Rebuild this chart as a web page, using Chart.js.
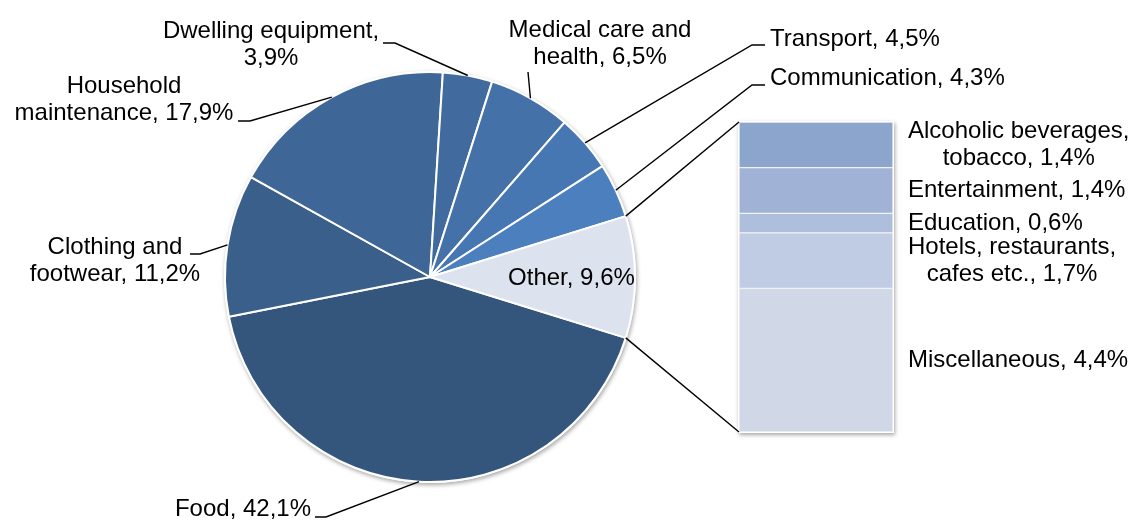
<!DOCTYPE html>
<html><head><meta charset="utf-8">
<script src="https://cdn.jsdelivr.net/npm/chart.js@4/dist/chart.umd.min.js"></script>
<style>
html,body{margin:0;padding:0;background:#fff;}
#wrap{position:relative;width:1133px;height:520px;overflow:hidden;}
#wrap canvas{position:absolute;left:0;top:0;}
</style></head><body>
<div id="wrap"><canvas id="pie" width="1133" height="520"></canvas><canvas id="bar" width="1133" height="520"></canvas></div>
<script>
// ---- data ----
const pieCategories = ['Food', 'Clothing and\nfootwear', 'Household\nmaintenance', 'Dwelling equipment', 'Medical care and\nhealth', 'Transport', 'Communication', 'Other'];
const pieValues = [42.1, 11.2, 17.9, 3.9, 6.5, 4.5, 4.3, 9.6];
const otherCategories = ['Alcoholic beverages,\ntobacco', 'Entertainment', 'Education', 'Hotels, restaurants,\ncafes etc.', 'Miscellaneous'];
const otherValues = [1.4, 1.4, 0.6, 1.7, 4.4];

// ---- styles ----
const pieColors = ['#34567C', '#3A5F8A', '#3E6696', '#416B9E', '#4471A8', '#4777B2', '#4C7FBE', '#DCE2EE'];
const barColors = ['#8BA5CD', '#A0B3D6', '#AEBFDE', '#BFCCE3', '#D0D8E8'];
const FONT = '24px "Liberation Sans", Arial, sans-serif';
const LINE_H = 27;

const fmt = v => v.toFixed(1).replace('.', ',') + '%';
function labelLines(name, value, breakBeforeValue) {
  const txt = name + ',' + (breakBeforeValue ? '\n' : ' ') + fmt(value);
  return txt.split('\n');
}

// label layout for the pie (text anchor, leader elbow points)
const pieLabelLayout = [
  {x: 243, y: 509, align: 'center', leader: [[315, 517], [326, 517]]},
  {x: 115, y: 247, align: 'center', leader: [[190, 254], [200, 254]]},
  {x: 124, y: 86, align: 'center', leader: [[238, 121], [250, 121]]},
  {x: 271, y: 31, align: 'center', leader: [[383, 43], [395, 43]], breakValue: true},
  {x: 600, y: 30, align: 'center', leader: [[528, 72]]},
  {x: 770, y: 39, align: 'left', leader: [[765, 45], [752, 45]]},
  {x: 770, y: 78, align: 'left', leader: [[765, 85], [752, 85]]},
  {inside: 0.69, align: 'center'}
];

function setFont(ctx) {
  ctx.font = FONT;
  ctx.fillStyle = '#000';
  ctx.textBaseline = 'middle';
}

const pieDecor = {
  id: 'pieDecor',
  beforeDatasetsDraw(chart) {
    const arc = chart.getDatasetMeta(0).data[0];
    const ctx = chart.ctx;
    ctx.save();
    ctx.shadowColor = 'rgba(0,0,0,0.35)';
    ctx.shadowBlur = 4;
    ctx.shadowOffsetX = 1;
    ctx.shadowOffsetY = 2;
    ctx.fillStyle = '#fff';
    ctx.beginPath();
    ctx.arc(arc.x, arc.y, arc.outerRadius + 1, 0, Math.PI * 2);
    ctx.fill();
    ctx.restore();
  },
  afterDatasetsDraw(chart) {
    const ctx = chart.ctx;
    const meta = chart.getDatasetMeta(0);
    ctx.save();
    setFont(ctx);
    meta.data.forEach((arc, i) => {
      const L = pieLabelLayout[i];
      const lines = labelLines(pieCategories[i], pieValues[i], L.breakValue);
      const mid = (arc.startAngle + arc.endAngle) / 2;
      if (L.inside) {
        const r = arc.outerRadius * L.inside;
        ctx.textAlign = 'center';
        ctx.fillText(lines.join(' '), arc.x + Math.cos(mid) * r, arc.y + Math.sin(mid) * r + 1);
        return;
      }
      const px = arc.x + Math.cos(mid) * arc.outerRadius;
      const py = arc.y + Math.sin(mid) * arc.outerRadius;
      ctx.strokeStyle = '#000';
      ctx.lineWidth = 1.4;
      ctx.beginPath();
      ctx.moveTo(L.leader[0][0], L.leader[0][1]);
      for (let k = 1; k < L.leader.length; k++) ctx.lineTo(L.leader[k][0], L.leader[k][1]);
      ctx.lineTo(px, py);
      ctx.stroke();
      ctx.textAlign = L.align;
      lines.forEach((ln, k) => ctx.fillText(ln, L.x, L.y + k * LINE_H));
    });
    ctx.restore();
  }
};

const pieChart = new Chart(document.getElementById('pie'), {
  type: 'pie',
  data: {
    labels: pieCategories,
    datasets: [{data: pieValues, backgroundColor: pieColors, borderColor: '#ffffff', borderWidth: 2}]
  },
  options: {
    responsive: false,
    animation: false,
    events: [],
    rotation: 90 + pieValues[pieValues.length - 1] * 3.6 / 2,
    layout: {padding: {left: 224, right: 497, top: 71, bottom: 37}},
    plugins: {legend: {display: false}, tooltip: {enabled: false}}
  },
  plugins: [pieDecor]
});

const barDecor = {
  id: 'barDecor',
  beforeDatasetsDraw(chart) {
    const a = chart.chartArea, ctx = chart.ctx;
    ctx.save();
    ctx.shadowColor = 'rgba(0,0,0,0.35)';
    ctx.shadowBlur = 4;
    ctx.shadowOffsetX = 1;
    ctx.shadowOffsetY = 2;
    ctx.fillStyle = '#fff';
    ctx.fillRect(a.left - 1, a.top - 1, a.right - a.left + 2, a.bottom - a.top + 2);
    ctx.restore();
  },
  afterDatasetsDraw(chart) {
    const a = chart.chartArea, ctx = chart.ctx;
    ctx.save();
    const pm = pieChart.getDatasetMeta(0);
    const oa = pm.data[pm.data.length - 1];
    ctx.strokeStyle = '#000';
    ctx.lineWidth = 1.4;
    ctx.beginPath();
    ctx.moveTo(oa.x + Math.cos(oa.startAngle) * oa.outerRadius, oa.y + Math.sin(oa.startAngle) * oa.outerRadius);
    ctx.lineTo(a.left, a.top);
    ctx.moveTo(oa.x + Math.cos(oa.endAngle) * oa.outerRadius, oa.y + Math.sin(oa.endAngle) * oa.outerRadius);
    ctx.lineTo(a.left, a.bottom);
    ctx.stroke();
    setFont(ctx);
    ctx.textAlign = 'center';
    const n = otherCategories.length;
    for (let d = 0; d < n; d++) {
      const origIdx = n - 1 - d;
      const el = chart.getDatasetMeta(d).data[0];
      const midY = (el.y + el.base) / 2;
      const lines = labelLines(otherCategories[origIdx], otherValues[origIdx], false);
      const maxW = Math.max(...lines.map(l => ctx.measureText(l).width));
      const cx = a.right + 15 + maxW / 2;
      const y0 = midY - (lines.length - 1) * LINE_H / 2;
      lines.forEach((ln, k) => ctx.fillText(ln, cx, y0 + k * LINE_H));
    }
    ctx.restore();
  }
};

const barDatasets = otherCategories.map((c, i) => ({
  label: c,
  data: [otherValues[i]],
  backgroundColor: barColors[i],
  borderColor: '#F2F2F2',
  borderWidth: 1,
  borderSkipped: false,
  barPercentage: 1,
  categoryPercentage: 1
})).reverse();

new Chart(document.getElementById('bar'), {
  type: 'bar',
  data: {labels: ['Other'], datasets: barDatasets},
  options: {
    responsive: false,
    animation: false,
    events: [],
    layout: {padding: {left: 739, right: 240, top: 122, bottom: 88}},
    scales: {
      x: {stacked: true, display: false},
      y: {stacked: true, display: false, min: 0, max: otherValues.reduce((s, v) => s + v, 0)}
    },
    plugins: {legend: {display: false}, tooltip: {enabled: false}}
  },
  plugins: [barDecor]
});
</script>
</body></html>
